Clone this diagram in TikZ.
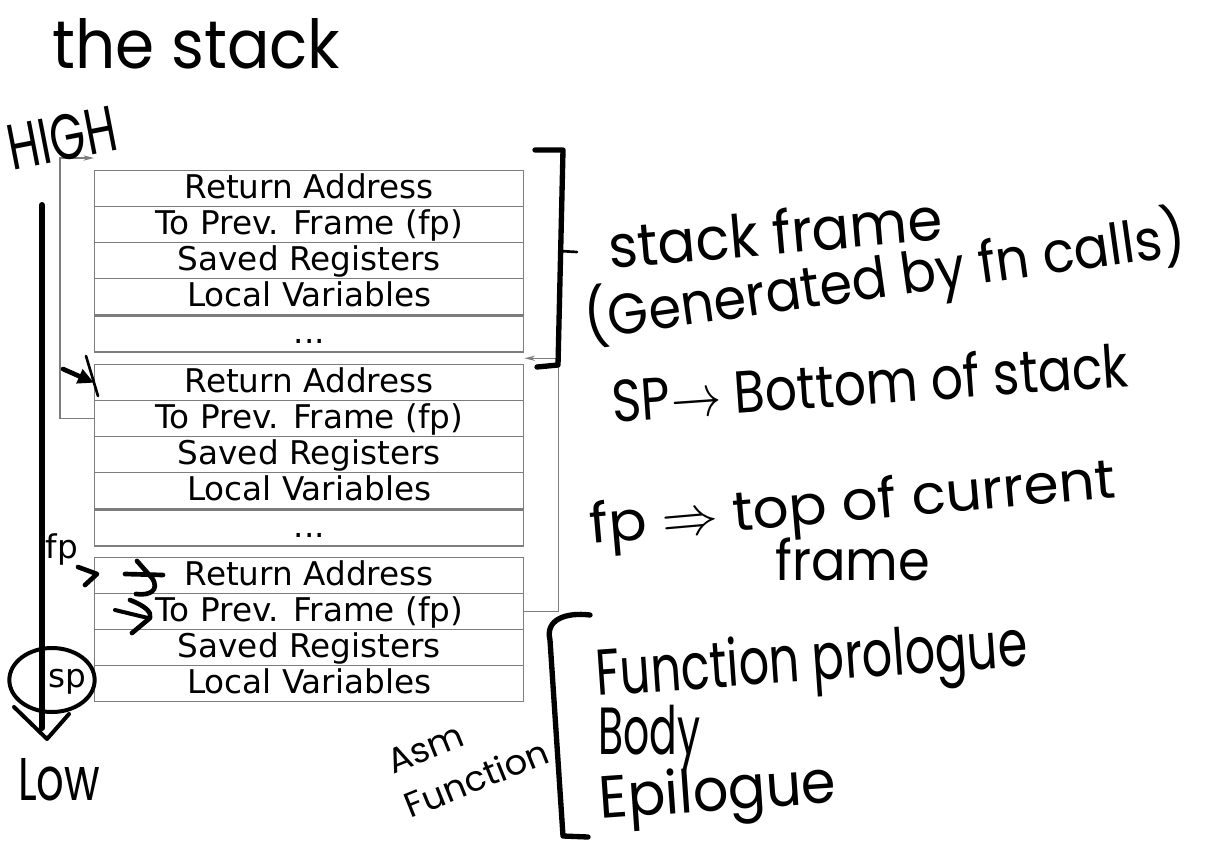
\documentclass[tikz,border=0pt]{standalone}
\usepackage{fontspec}
\usepackage{graphicx}
\setmainfont{DejaVu Sans}
\newfontfamily\handfont{Poppins}
\usetikzlibrary{arrows.meta}

\definecolor{rowgray}{RGB}{125,125,125}
% handwritten note squeezed into a given box (w, h in pt)
\newcommand{\handnote}[3]{\resizebox{#1pt}{#2pt}{\handfont #3}}

\tikzset{
  row/.style={draw=rowgray, line width=1.1pt, minimum width=321.75pt,
    minimum height=27pt, inner sep=0pt, anchor=north west,
    text height=18pt, text depth=4pt, font=\fontsize{24.5}{26}\selectfont},
  reg/.style={inner sep=0pt, font=\fontsize{24.5}{26}\selectfont},
  link/.style={draw=rowgray, line width=0.9pt, -{Stealth[length=8pt,width=4pt]}},
  hand/.style={line width=3.5pt, line cap=round, line join=round},
  note/.style={inner sep=0pt}
}

\begin{document}
\begin{tikzpicture}[x=0.75pt,y=-0.75pt]
\useasboundingbox (0,0) rectangle (1210,846);

% the three frames
\foreach \f/\top in {1/170, 2/364, 3/557} {
  \foreach \txt [count=\k] in {Return Address, To Prev. Frame (fp), Saved Registers, Local Variables} {
    \node[row] (f\f r\k) at (94,{\top+36*(\k-1)}) {\txt};
  }
}
\node[row] (f1r5) at (f1r4.south west) {...};
\node[row] (f2r5) at (f2r4.south west) {...};

% saved fp links
\coordinate (up1) at ([yshift=9pt]f1r1.north west);
\coordinate (up2) at ([yshift=-4pt]f1r5.south east);
\draw[link] (f2r2.west) -- ++(-34,0) |- (up1);
\draw[link] (f3r2.east) -- ++(34,0) |- (up2);

% high -> low axis
\coordinate (axtop) at (42,205);
\coordinate (axbot) at (42,728);
\draw[hand, line width=4.5pt] (axtop) -- (axbot);
\draw[hand, line width=3pt] (14,707) -- (47,739) -- (69,714);

\node[reg] (fplbl) at (62,549) {fp};
\node[reg] (splbl) at (67,682) {sp};
\draw[hand, line width=3pt] (52,680) ellipse [x radius=32pt, y radius=24pt];

% pen marks at the frames
\draw[hand, -{Triangle[length=12pt,width=11pt]}] (63,369) -- (f2r1.west);
\draw[hand, line width=2pt] (86,356) -- (98,396);
\draw[hand, line width=3.5pt] (78,567) -- (97,574) -- (85,585);
\draw[hand, line width=3.5pt] (125,574) -- (163,575);
\draw[hand, line width=3.5pt] (137,561) -- (152,578) .. controls (160,590) and (150,596) .. (136,594);
\draw[hand, line width=3pt] (115,610) -- (148,618);
\draw[hand, line width=3.5pt] (130,600) .. controls (145,606) and (152,612) .. (150,618) -- (132,633);

% brackets
\draw[hand, line width=4pt] (535,150) -- (563,150) -- (558,365) -- (537,367);
\draw[hand, line width=2pt] (560,251) -- (577,252);
\draw[hand, line width=4pt] (590,615) .. controls (565,612) and (545,620) .. (550,640) -- (563,836) -- (588,837);

% notes
\node[note, anchor=base west] (title) at (52,68) {\handnote{216}{37.5}{the stack}};
\node[note, rotate=11] (high) at (62,138) {\handnote{82}{34}{HIGH}};
\node[note, anchor=base west] (low) at (18,800) {\handnote{61.5}{31.5}{Low}};
\node[note, rotate=5] (frameNote) at (775,232) {\handnote{251}{34}{stack frame}};
\node[note, rotate=8] (genNote) at (885,278) {\handnote{455}{40}{(Generated by fn calls)}};
\node[note, rotate=4] (spNote) at (870,382) {\handnote{388}{34}{SP$\to$ Bottom of stack}};
\node[note, rotate=5] (fpNote) at (853,507) {\handnote{395}{31.5}{fp $\Rightarrow$ top of current}};
\node[note, anchor=base west] (fpNote2) at (775,580) {\handnote{116}{32}{frame}};
\node[note, rotate=4] (proNote) at (812,665) {\handnote{324}{37}{Function prologue}};
\node[note, anchor=base west] (bodyNote) at (598,754) {\handnote{76.5}{37}{Body}};
\node[note, rotate=4] (epiNote) at (718,796) {\handnote{178}{34}{Epilogue}};
\node[note, rotate=22] (asmNote) at (468,757) {\handnote{114}{54}{\shortstack[l]{Asm\\[3pt]Function}}};
\end{tikzpicture}
\end{document}
